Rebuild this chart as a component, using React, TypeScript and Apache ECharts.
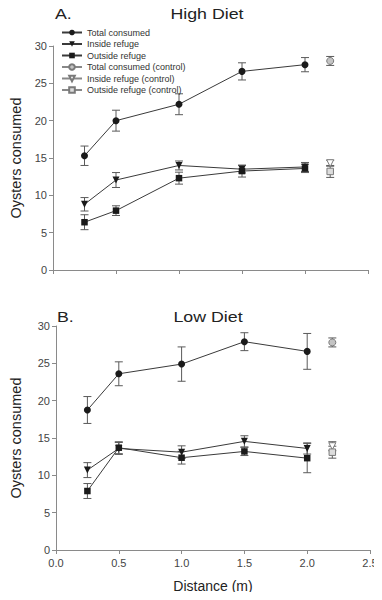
import React, { useEffect, useRef } from "react";
import * as echarts from "echarts";

const distances = [0.25, 0.5, 1.0, 1.5, 2.0];
const controlX = 2.2;
const seriesNames = [
  "Total consumed",
  "Inside refuge",
  "Outside refuge",
  "Total consumed (control)",
  "Inside refuge (control)",
  "Outside refuge (control)",
];
const xTicks = [0, 0.5, 1.0, 1.5, 2.0, 2.5];
const yTicks = [0, 5, 10, 15, 20, 25, 30];

// High diet
const highTotal = [15.3, 20.0, 22.2, 26.6, 27.5];
const highTotalErr = [1.3, 1.4, 1.4, 1.15, 0.95];
const highInside = [8.8, 12.05, 14.0, 13.5, 13.8];
const highInsideErr = [0.9, 1.0, 0.6, 0.5, 0.6];
const highOutside = [6.4, 7.95, 12.3, 13.25, 13.6];
const highOutsideErr = [1.0, 0.65, 0.8, 0.8, 0.55];
const highControl = [28.0, 14.3, 13.2];
const highControlErr = [0.6, 0.4, 0.8];

// Low diet
const lowTotal = [18.75, 23.6, 24.9, 27.9, 26.6];
const lowTotalErr = [1.8, 1.6, 2.3, 1.2, 2.4];
const lowInside = [10.7, 13.6, 13.1, 14.55, 13.6];
const lowInsideErr = [1.0, 0.8, 0.85, 0.75, 0.75];
const lowOutside = [7.9, 13.7, 12.36, 13.2, 12.3];
const lowOutsideErr = [1.0, 0.8, 0.85, 0.55, 1.95];
const lowControl = [27.8, 13.9, 13.1];
const lowControlErr = [0.6, 0.6, 0.8];

const FONT = "Liberation Sans, Arial, sans-serif";
const DARK = "#1a1a1a";
const LINE = "#3a3a3a";
const ERR = "#5a5a5a";
const CTRL_STROKE = "#7a7a7a";

function errorBarSeries(axisIndex: number, xs: number[], ys: number[], errs: number[]) {
  return {
    type: "custom",
    xAxisIndex: axisIndex,
    yAxisIndex: axisIndex,
    z: 1,
    silent: true,
    encode: { x: 0, y: [1, 2] },
    data: xs.map((x, i) => [x, ys[i] - errs[i], ys[i] + errs[i]]),
    renderItem: (params: any, api: any) => {
      const x = api.value(0);
      const lo = api.coord([x, api.value(1)]);
      const hi = api.coord([x, api.value(2)]);
      const w = 4;
      const st = { stroke: ERR, lineWidth: 1 };
      return {
        type: "group",
        children: [
          { type: "line", shape: { x1: lo[0], y1: lo[1], x2: hi[0], y2: hi[1] }, style: st },
          { type: "line", shape: { x1: lo[0] - w, y1: lo[1], x2: lo[0] + w, y2: lo[1] }, style: st },
          { type: "line", shape: { x1: hi[0] - w, y1: hi[1], x2: hi[0] + w, y2: hi[1] }, style: st },
        ],
      };
    },
  };
}

const symbolDefs = [
  { symbol: "circle", size: 7, rotate: 0 },
  { symbol: "triangle", size: 7, rotate: 180 },
  { symbol: "rect", size: 6.5, rotate: 0 },
];
const ctrlFills = ["#c4c4c4", "#ffffff", "#dcdcdc"];

function panelSeries(
  axisIndex: number,
  mains: number[][],
  mainErrs: number[][],
  ctrl: number[],
  ctrlErr: number[]
) {
  const out: any[] = [];
  mains.forEach((vals, k) => {
    out.push(errorBarSeries(axisIndex, distances, vals, mainErrs[k]));
  });
  ctrl.forEach((v, k) => {
    out.push(errorBarSeries(axisIndex, [controlX], [v], [ctrlErr[k]]));
  });
  mains.forEach((vals, k) => {
    out.push({
      type: "line",
      name: seriesNames[k],
      xAxisIndex: axisIndex,
      yAxisIndex: axisIndex,
      z: 3,
      data: distances.map((x, i) => [x, vals[i]]),
      symbol: symbolDefs[k].symbol,
      symbolSize: symbolDefs[k].size,
      symbolRotate: symbolDefs[k].rotate,
      showAllSymbol: true,
      lineStyle: { color: LINE, width: 1 },
      itemStyle: { color: DARK, borderWidth: 0 },
    });
  });
  ctrl.forEach((v, k) => {
    out.push({
      type: "line",
      name: seriesNames[k + 3],
      xAxisIndex: axisIndex,
      yAxisIndex: axisIndex,
      z: 3,
      data: [[controlX, v]],
      symbol: symbolDefs[k].symbol,
      symbolSize: symbolDefs[k].size,
      symbolRotate: symbolDefs[k].rotate,
      showAllSymbol: true,
      lineStyle: { color: "#888", width: 1 },
      itemStyle: { color: ctrlFills[k], borderColor: CTRL_STROKE, borderWidth: 1 },
    });
  });
  return out;
}

function xAxis(gridIndex: number, showLabels: boolean) {
  return {
    type: "value",
    gridIndex,
    min: xTicks[0],
    max: xTicks[xTicks.length - 1],
    interval: 0.5,
    axisLine: { show: true, lineStyle: { color: "#8a8a8a", width: 1 } },
    axisTick: { show: true, length: 4, lineStyle: { color: "#8a8a8a" } },
    splitLine: { show: false },
    axisLabel: {
      show: showLabels,
      fontSize: 11,
      color: "#444",
      fontFamily: FONT,
      margin: 7,
      formatter: (v: number) => v.toFixed(1),
    },
    name: showLabels ? "Distance (m)" : "",
    nameLocation: "middle",
    nameGap: 29,
    nameTextStyle: { fontSize: 14, color: "#222", fontFamily: FONT },
  };
}

function yAxis(gridIndex: number, gap: number) {
  return {
    type: "value",
    gridIndex,
    min: yTicks[0],
    max: yTicks[yTicks.length - 1],
    interval: 5,
    axisLine: { show: true, lineStyle: { color: "#8a8a8a", width: 1 } },
    axisTick: { show: true, length: 4, lineStyle: { color: "#8a8a8a" } },
    splitLine: { show: false },
    axisLabel: { fontSize: 11, color: "#444", fontFamily: FONT, margin: 6 },
    name: "Oysters consumed",
    nameLocation: "middle",
    nameGap: gap,
    nameTextStyle: { fontSize: 14.5, color: "#222", fontFamily: FONT },
  };
}

function titleText(text: string, x: number, y: number, align: string) {
  return {
    type: "text",
    x,
    y,
    scaleX: 1.27,
    scaleY: 1,
    style: { text, x: 0, y: 0, fontSize: 14, fill: "#222", fontFamily: FONT, align, verticalAlign: "middle" },
  };
}

export default function App() {
  const ref = useRef<HTMLDivElement>(null);
  useEffect(() => {
    if (!ref.current) return;
    const chart = echarts.init(ref.current, undefined, { renderer: "svg" });
    const option: any = {
      animation: false,
      backgroundColor: "#ffffff",
      textStyle: { fontFamily: FONT },
      grid: [
        { left: 47, top: 46, width: 321, height: 224 },
        { left: 50, top: 326, width: 320, height: 224 },
      ],
      xAxis: [xAxis(0, false), xAxis(1, true)],
      yAxis: [yAxis(0, 30), yAxis(1, 33)],
      legend: {
        data: seriesNames,
        orient: "vertical",
        left: 61,
        top: 28,
        itemWidth: 20,
        itemHeight: 7,
        itemGap: 2.5,
        textStyle: { fontSize: 9, color: "#333", fontFamily: FONT, padding: [0, 0, 0, 0] },
        padding: 0,
      },
      graphic: [
        titleText("A.", 55, 14, "left"),
        titleText("High Diet", 207, 14, "center"),
        titleText("B.", 57, 317.5, "left"),
        titleText("Low Diet", 208, 317.5, "center"),
      ],
      series: [
        ...panelSeries(
          0,
          [highTotal, highInside, highOutside],
          [highTotalErr, highInsideErr, highOutsideErr],
          highControl,
          highControlErr
        ),
        ...panelSeries(
          1,
          [lowTotal, lowInside, lowOutside],
          [lowTotalErr, lowInsideErr, lowOutsideErr],
          lowControl,
          lowControlErr
        ),
      ],
    };
    chart.setOption(option);
    return () => chart.dispose();
  }, []);
  return <div ref={ref} style={{ width: 382, height: 600, margin: -8 }} />;
}
